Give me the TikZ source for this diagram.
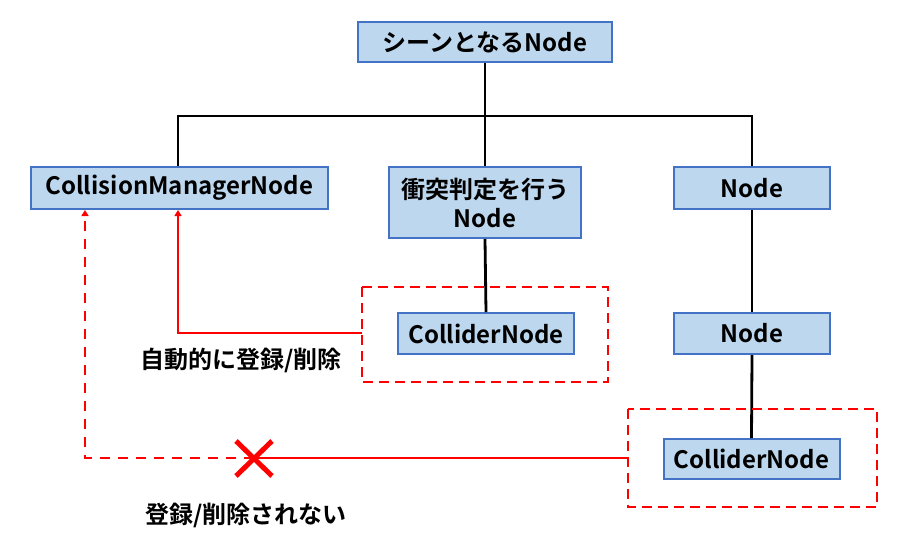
\documentclass[tikz,border=0pt]{standalone}
\usepackage{fontspec}
\setmainfont{Noto Sans CJK JP Bold}
\usetikzlibrary{arrows.meta}
\definecolor{boxfill}{HTML}{BDD7EE}
\definecolor{boxline}{HTML}{4472C4}
\definecolor{myred}{HTML}{FF0000}
\tikzset{
  nodebox/.style={draw=boxline, fill=boxfill, line width=2pt, inner sep=0pt, font=\fontsize{24}{29}\selectfont, align=center},
  tree/.style={draw=black, line width=2.8pt},
  redframe/.style={draw=myred, line width=2.5pt, dash pattern=on 10pt off 6pt},
  redline/.style={draw=myred, line width=2.4pt},
  reddash/.style={draw=myred, line width=2.4pt, dash pattern=on 10pt off 8pt},
  tip/.style={-{Triangle[width=7pt,length=6pt]}},
  lbl/.style={font=\fontsize{24}{29}\selectfont, inner sep=0pt}
}
\begin{document}
\begin{tikzpicture}[x=1pt,y=-1pt]
\useasboundingbox (0,0) rectangle (913,542);
% boxes
\node[nodebox, minimum width=254pt, minimum height=40pt] (scene) at (485,42) {シーンとなるNode};
\node[nodebox, minimum width=297pt, minimum height=42pt] (cm) at (179.5,188) {CollisionManagerNode};
\node[nodebox, minimum width=192pt, minimum height=71pt] (judge) at (485,202.5) {衝突判定を行う\\Node};
\node[nodebox, minimum width=156pt, minimum height=42pt] (nr) at (752,188) {Node};
\node[nodebox, minimum width=176pt, minimum height=41pt] (cmid) at (486,333.5) {ColliderNode};
\node[nodebox, minimum width=156pt, minimum height=41pt] (nr2) at (752,333.5) {Node};
\node[nodebox, minimum width=176pt, minimum height=40pt] (cr) at (751.5,459) {ColliderNode};
% tree
\coordinate (bus) at (485,116);
\draw[tree] (scene.south) -- (bus);
\draw[tree] (cm.north -| 178,0) |- (bus) -| (nr.north);
\draw[tree] (bus) -- (judge.north);
\draw[tree] (judge.south) -- (cmid.north);
\draw[tree] (nr.south) -- (nr2.north);
\draw[tree] (nr2.south) -- (cr.north);
% red frames
\draw[redframe] (362,287) rectangle (608,382);
\draw[redframe] (628,409) rectangle (877,507);
\coordinate (f1) at (362,333);
\coordinate (f2) at (628,458);
\coordinate (xm) at (254,458);
\coordinate (c1) at (178,333);
\coordinate (c2) at (85,458);
% red lines
\draw[redline, tip] (f1) -- (c1) -- (c1 |- cm.south);
\draw[redline] (f2) -- (xm);
\draw[reddash, tip] (xm) -- (c2) -- (c2 |- cm.south);
% cross
\draw[myred, line width=5pt] (236,441) -- (272,476) (272,441) -- (236,476);
% labels
\node[lbl] (t1) at (241,360) {自動的に登録/削除};
\node[lbl] (t2) at (246,515) {登録/削除されない};
\end{tikzpicture}
\end{document}
